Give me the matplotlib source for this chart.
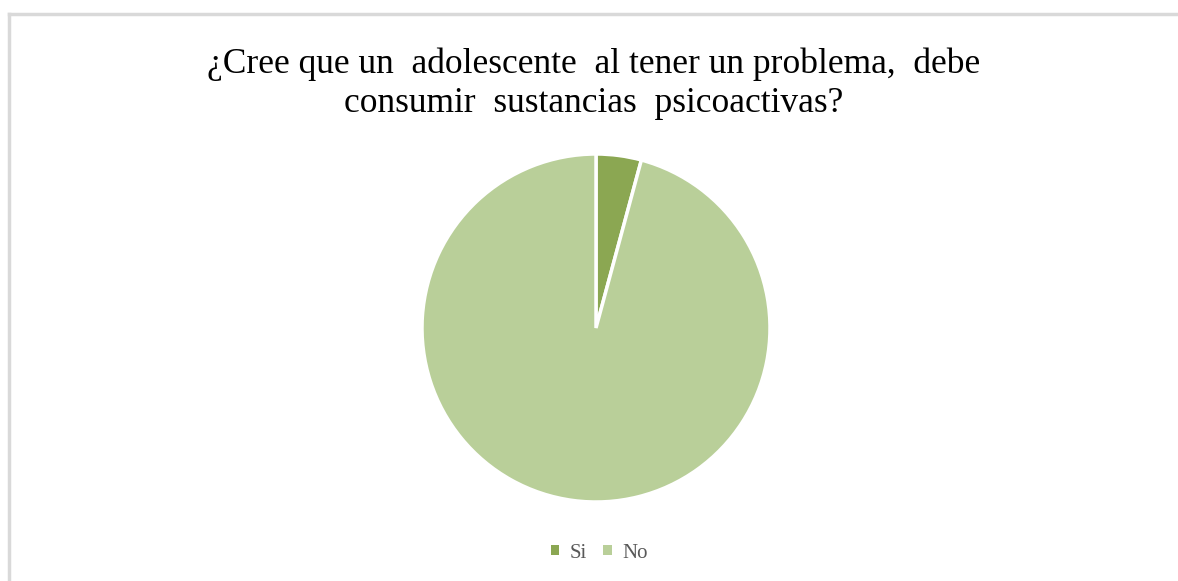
import matplotlib
matplotlib.use("Agg")
import matplotlib.pyplot as plt
from matplotlib.patches import Rectangle
from matplotlib.lines import Line2D

labels = ["Si", "No"]
values = [4.2, 95.8]
colors = ["#8BA752", "#B9CF99"]
title = ("¿Cree que un  adolescente  al tener un problema,  debe\n"
         "consumir  sustancias  psicoactivas?")

W, H = 1178, 581
fig = plt.figure(figsize=(W / 100, H / 100), dpi=100)
fig.patch.set_facecolor("white")

# chart frame (top and left edges visible)
fig.add_artist(Line2D([9 / W, 9 / W], [0, 1 - 14 / H], transform=fig.transFigure,
                      color="#D9D9D9", lw=2.5))
fig.add_artist(Line2D([9 / W, 1], [1 - 14 / H, 1 - 14 / H], transform=fig.transFigure,
                      color="#D9D9D9", lw=2.5))

fig.text(594 / W, 1 - 84 / H, title, ha="center", va="center",
         fontsize=25.5, family="Liberation Serif", color="#000000", linespacing=1.25)

cx, cy, r = 596, 328, 174
ax = fig.add_axes([(cx - r) / W, 1 - (cy + r) / H, 2 * r / W, 2 * r / H])
ax.pie(values, colors=colors, startangle=90, counterclock=False,
       wedgeprops=dict(edgecolor="white", linewidth=2.5))
ax.set_aspect("equal")
ax.set_xlim(-1, 1)
ax.set_ylim(-1, 1)
ax.axis("off")

handles = [Rectangle((0, 0), 1, 1, facecolor=c, edgecolor="none") for c in colors]
fig.legend(handles, labels, loc="center", bbox_to_anchor=(599 / W, 1 - 553 / H),
           ncol=2, frameon=False, handlelength=0.4, handleheight=0.4,
           handletextpad=0.5, columnspacing=0.8,
           prop=dict(family="Liberation Serif", size=15), labelcolor="#595959")

fig.savefig("out.png", dpi=100, facecolor="white")
